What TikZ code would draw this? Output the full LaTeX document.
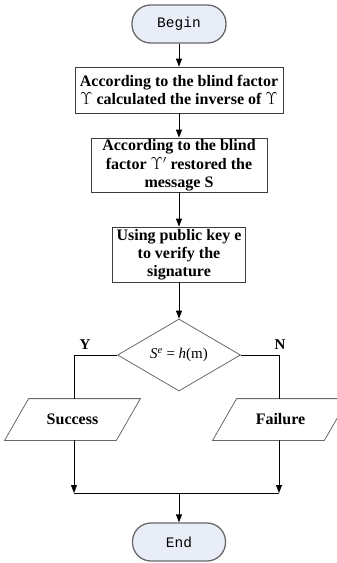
\documentclass[tikz,border=0pt]{standalone}
\usepackage{fontspec}
\setmainfont{Liberation Serif}
\newfontfamily\termfont{Liberation Mono}
\usetikzlibrary{arrows.meta,shapes.geometric}
\definecolor{termfill}{RGB}{232,237,247}
\definecolor{termline}{RGB}{105,105,105}
\definecolor{boxline}{RGB}{60,60,60}
\begin{document}
\begin{tikzpicture}[x=1pt,y=-1pt,
  line width=0.8pt,
  arr/.style={-{Triangle[length=8pt,width=6pt]}},
  terminal/.style={draw=termline, fill=termfill, line width=1.3pt,
    rounded corners=18.5pt, minimum height=38pt, inner sep=0pt,
    font=\termfont\fontsize{14.5}{16}\selectfont},
  process/.style={draw=boxline, line width=0.8pt, inner sep=0pt, align=center,
    font=\fontsize{16}{18}\selectfont\bfseries},
  decision/.style={draw=termline, diamond, line width=0.8pt, inner sep=0pt,
    font=\fontsize{15}{17}\selectfont},
  iotext/.style={minimum width=111pt, minimum height=41pt, inner sep=0pt,
    font=\fontsize{16}{18}\selectfont\bfseries},
  ioshape/.style={draw=termline, line width=0.8pt},
  lab/.style={font=\fontsize{15}{17}\selectfont\bfseries, inner sep=0pt}]

\useasboundingbox (0,0) rectangle (337,563);

% terminals and process steps
\node[terminal, minimum width=94pt] (begin) at (179,24) {Begin};
\node[process, minimum width=208pt, minimum height=46pt] (p1) at (179,90)
  {According to the blind factor\\$\Upsilon$ calculated the inverse of $\Upsilon$};
\node[process, minimum width=176pt, minimum height=54pt] (p2) at (179,165)
  {According to the blind\\[1.5pt]factor $\Upsilon'$ restored the\\message S};
\node[process, minimum width=133pt, minimum height=55pt] (p3) at (179,254.5)
  {Using public key e\\to verify the\\signature};

% decision
\node[decision, minimum width=123pt, minimum height=72pt] (dec) at (179,355)
  {\textit{S}\textsuperscript{\textit{e}} = \textit{h}(m)};
\node[lab] (ly) at (85,345) {Y};
\node[lab] (ln) at (280,345) {N};

% outcome parallelograms
\node[iotext] (succ) at (72.5,419.5) {Success};
\node[iotext] (fail) at (280.5,419.5) {Failure};
\draw[ioshape] ([xshift=-12pt]succ.south west) -- ([xshift=-12pt]succ.south east)
  -- ([xshift=12pt]succ.north east) -- ([xshift=12pt]succ.north west) -- cycle;
\draw[ioshape] ([xshift=-12pt]fail.south west) -- ([xshift=-12pt]fail.south east)
  -- ([xshift=12pt]fail.north east) -- ([xshift=12pt]fail.north west) -- cycle;

\node[terminal, minimum width=93pt] (end) at (179,542) {End};

% junction points
\coordinate (jl) at (74,493);
\coordinate (jr) at (279,493);
\coordinate (jm) at (179,493);

% connectors
\draw[arr] (begin.south) -- (p1.north);
\draw[arr] (p1.south) -- (p2.north);
\draw[arr] (p2.south) -- (p3.north);
\draw[arr] (p3.south) -- (dec.north);
\draw (dec.west) -| (jl |- succ.north);
\draw (dec.east) -| (jr |- fail.north);
\draw[arr] (jl |- succ.south) -- (jl);
\draw[arr] (jr |- fail.south) -- (jr);
\draw (jl) -- (jr);
\draw[arr] (jm) -- (end.north);
\end{tikzpicture}
\end{document}
